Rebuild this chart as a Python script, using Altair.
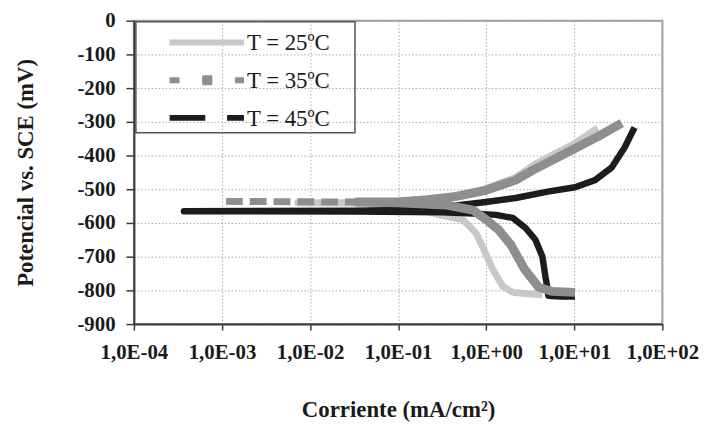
import altair as alt
import pandas as pd

# ---- data (current in mA/cm2, potential in mV) ----
# T = 25 ºC (cathodic branch -> Ecorr -> anodic branch)
I25 = [4.35, 3.0, 2.0, 1.54, 1.19, 0.942, 0.766, 0.547, 0.325, 0.200, 0.112, 0.050,
       0.00724, 0.050, 0.100, 0.457, 1.00, 2.16, 3.62, 6.08, 10.2, 18.5]
E25 = [-812, -810, -806, -788, -738, -679, -630, -591, -578, -565, -548, -541,
       -540, -539, -536, -520, -498, -465, -425, -394, -364, -318]

# T = 35 ºC
I35 = [10.2, 5.64, 3.92, 3.30, 2.69, 1.91, 1.39, 1.00, 0.708, 0.355, 0.100, 0.0339,
       0.00111, 0.0961, 0.209, 0.456, 0.991, 2.16, 3.35, 7.9, 18.5, 34.6]
E35 = [-806, -803, -790, -765, -735, -665, -621, -590, -562, -547, -540, -538,
       -536, -538, -532, -521, -503, -473, -444, -394, -344, -304]
SPARSE_LIMIT_35 = 0.0339  # below this current the 35 ºC record is sparse (dashed look)

# T = 45 ºC
I45 = [10.2, 7.0, 5.08, 4.94, 4.70, 4.35, 3.62, 2.80, 2.00, 1.29, 0.708, 0.316,
       0.0316, 0.00037, 0.0316, 0.251, 0.456, 0.991, 2.16, 5.01, 10.2, 17.2, 26.7,
       37.3, 48.4]
E45 = [-818, -818, -816, -791, -759, -700, -650, -615, -585, -576, -572, -568,
       -566, -565, -564, -560, -548, -538, -526, -507, -494, -473, -435, -376, -317]

labels = ["T = 25ºC", "T = 35ºC", "T = 45ºC"]
x_ticks = [1e-4, 1e-3, 1e-2, 1e-1, 1e0, 1e1, 1e2]
y_ticks = [-900, -800, -700, -600, -500, -400, -300, -200, -100, 0]

colors = ["#c8c8c8", "#8e8e8e", "#1c1c1c"]


def frame(I, E, label):
    return pd.DataFrame({"I": I, "E": E, "T": label, "k": list(range(len(I)))})


d25 = frame(I25, E25, labels[0])
d35 = frame(I35, E35, labels[1])
d45 = frame(I45, E45, labels[2])

SERIF = "Liberation Serif"

xscale = alt.Scale(type="log", domain=[x_ticks[0], x_ticks[-1]], nice=False)
yscale = alt.Scale(domain=[y_ticks[0], y_ticks[-1]], nice=False, zero=False)

xaxis = alt.Axis(
    values=x_ticks,
    labelExpr="'1,0E' + (round(log(datum.value)/LN10) < 0 ? '-0' : '+0') + abs(round(log(datum.value)/LN10))",
    title="Corriente (mA/cm²)",
    grid=True,
    tickSize=6,
    labelPadding=12,
    titlePadding=36,
    titleFontSize=23,
    labelFlush=False,
    labelOverlap=False,
)
yaxis = alt.Axis(
    values=y_ticks,
    labelExpr="'' + datum.value",
    title="Potencial vs. SCE (mV)",
    grid=True,
    tickSize=8,
    labelPadding=11,
    titlePadding=40,
    titleFontSize=23,
)


def series_line(df, color, width, dash=None, order_desc=False):
    kw = dict(color=color, strokeWidth=width, strokeCap="butt", strokeJoin="round", clip=True)
    if dash:
        kw["strokeDash"] = dash
    return alt.Chart(df).mark_line(**kw).encode(
        x=alt.X("I:Q", scale=xscale, axis=xaxis),
        y=alt.Y("E:Q", scale=yscale, axis=yaxis),
        order=alt.Order("k:Q", sort="descending" if order_desc else "ascending"),
    )


line25 = series_line(d25, colors[0], 7)
line45 = series_line(d45, colors[2], 6.5)
line35_dense = series_line(d35, colors[1], 9).transform_filter(
    alt.datum.I >= SPARSE_LIMIT_35)
line35_sparse = series_line(d35, colors[1], 7, dash=[17, 7], order_desc=True).transform_filter(
    alt.datum.I <= SPARSE_LIMIT_35)

# ---- legend box (drawn inside the plot, top-left) ----
one = pd.DataFrame({"a": [0]})
leg_box = alt.Chart(one).mark_rect(fillOpacity=0, stroke="#555555", strokeWidth=1.5).encode(
    x=alt.value(2), x2=alt.value(223), y=alt.value(1), y2=alt.value(113))

row_y = [22, 60, 98]
leg_layers = [leg_box]
dashes = [None, [10, 23], [36, 22]]
for i, lab in enumerate(labels):
    dl = pd.DataFrame({"label": [lab]})
    rkw = dict(color=colors[i], strokeWidth=6, strokeCap="butt")
    if dashes[i]:
        rkw["strokeDash"] = dashes[i]
    leg_layers.append(
        alt.Chart(dl).mark_rule(**rkw).encode(
            x=alt.value(36), x2=alt.value(111), y=alt.value(row_y[i])))
    if i == 1:
        leg_layers.append(
            alt.Chart(dl).mark_square(size=100, color=colors[1], opacity=1).encode(
                x=alt.value(74), y=alt.value(row_y[i])))
    leg_layers.append(
        alt.Chart(dl).mark_text(align="left", baseline="middle", font=SERIF, fontSize=23,
                                color="#1a1a1a").encode(
            x=alt.value(114), y=alt.value(row_y[i] + 1), text="label:N"))

chart = alt.layer(line25, line45, line35_dense, line35_sparse, *leg_layers).properties(
    width=533,
    height=306,
    autosize=alt.AutoSizeParams(type="none"),
    padding={"left": 127, "top": 11, "right": 40, "bottom": 102},
    background="white",
).configure_view(
    stroke="#a0a0a0", strokeWidth=2
).configure_axis(
    labelFont=SERIF, labelFontSize=21, labelFontWeight="bold", labelColor="#1a1a1a",
    titleFont=SERIF, titleFontSize=21, titleFontWeight="bold", titleColor="#1a1a1a",
    domainColor="#3a3a3a", domainWidth=2, tickColor="#3a3a3a", tickWidth=1.5,
    gridColor="#a8a8a8", gridDash=[1.5, 2], gridWidth=1,
)

chart.save("out.html", embed_options={"renderer": "svg", "actions": False})
